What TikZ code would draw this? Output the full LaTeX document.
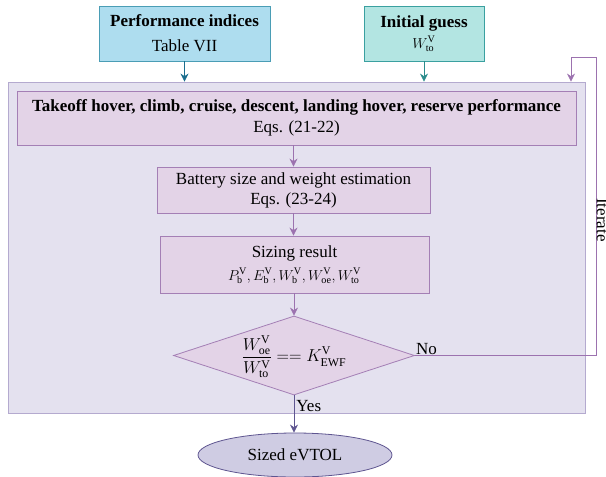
\documentclass[tikz,border=0pt]{standalone}
\usepackage{fontspec}
\setmainfont{Liberation Serif}
\usetikzlibrary{shapes.geometric,arrows.meta}
\definecolor{outerfill}{HTML}{E4E1EF}
\definecolor{outerdraw}{HTML}{B4AACF}
\definecolor{pfill}{HTML}{E3D3E7}
\definecolor{pdraw}{HTML}{A47FB5}
\definecolor{bfill}{HTML}{AEDDEF}
\definecolor{bdraw}{HTML}{4A9DB5}
\definecolor{gfill}{HTML}{B3E5E2}
\definecolor{gdraw}{HTML}{3AA0A0}
\definecolor{barrow}{HTML}{1B6E8E}
\definecolor{garrow}{HTML}{2A8C8C}
\definecolor{parrow}{HTML}{9C72AF}
\definecolor{yarrow}{HTML}{5E5590}
\definecolor{efill}{HTML}{CFCCE3}
\newcommand{\smallmath}{\fontsize{14.5}{17}\selectfont}
\tikzset{
  every node/.style={font=\fontsize{17}{20}\selectfont, inner sep=0pt},
  box/.style={draw, line width=0.8pt, align=center, rectangle},
  pbox/.style={box, fill=pfill, draw=pdraw},
  arr/.style={-{Stealth[length=8pt,width=8pt]}, line width=0.8pt},
}
\begin{document}
\begin{tikzpicture}[x=1pt,y=-1pt]
\useasboundingbox (0,0) rectangle (606,477);
\node[rectangle, draw=outerdraw, fill=outerfill, line width=0.8pt, minimum width=577, minimum height=331] (outer) at (296.5,247.5) {};
\node[box, fill=bfill, draw=bdraw, minimum width=171, minimum height=55] (perf) at (184.5,33.5) {\textbf{Performance indices}\\[5pt]Table VII};
\node[box, fill=gfill, draw=gdraw, minimum width=120, minimum height=55] (guess) at (424,33.5) {\textbf{Initial guess}\\[1pt]{\smallmath$W_{\mathrm{to}}^{\mathrm{V}}$}};
\node[pbox, minimum width=559, minimum height=54] (perfeq) at (296.5,118) {\textbf{Takeoff hover, climb, cruise, descent, landing hover, reserve performance}\\[1pt]Eqs. (21-22)};
\node[pbox, minimum width=273, minimum height=46] (batt) at (293.5,190) {Battery size and weight estimation\\[0pt]Eqs. (23-24)};
\node[pbox, minimum width=269, minimum height=57] (res) at (294.5,264.5) {Sizing result\\[3pt]{\smallmath$P_{\mathrm{b}}^{\mathrm{V}},E_{\mathrm{b}}^{\mathrm{V}},W_{\mathrm{b}}^{\mathrm{V}},W_{\mathrm{oe}}^{\mathrm{V}},W_{\mathrm{to}}^{\mathrm{V}}$}};
\node[diamond, draw=pdraw, fill=pfill, line width=0.8pt, minimum width=241, minimum height=79, aspect=3.05] (dec) at (294,355.5) {};
\node (dectext) at (294,357) {$\displaystyle\frac{W_{\mathrm{oe}}^{\mathrm{V}}}{W_{\mathrm{to}}^{\mathrm{V}}} == K_{\mathrm{EWF}}^{\mathrm{V}}$};
\node[ellipse, draw=yarrow, fill=efill, line width=0.8pt, minimum width=194, minimum height=44] (sized) at (295,455) {Sized eVTOL};
\coordinate (lr) at (596,355.5);
\coordinate (ur) at (596,57);
\coordinate (ul) at (571,57);
\draw[arr, draw=barrow] (perf.south) -- (perf.south |- outer.north);
\draw[arr, draw=garrow] (guess.south) -- (guess.south |- outer.north);
\draw[arr, draw=parrow] (batt.north |- perfeq.south) -- (batt.north);
\draw[arr, draw=parrow] (batt.south) -- (batt.south |- res.north);
\draw[arr, draw=parrow] (dec.north |- res.south) -- (dec.north);
\draw[arr, draw=yarrow] (dec.south) -- node[anchor=west, xshift=2pt, pos=0.28] (yes) {Yes} (dec.south |- sized.north);
\draw[arr, draw=parrow] (dec.east) -- (lr) -- (ur) -- (ul) -- (ul |- outer.north);
\node[anchor=south west, xshift=1pt, yshift=1pt] (no) at (dec.east) {No};
\node[rotate=-90, anchor=south] (iter) at (596.5,220) {Iterate};
\end{tikzpicture}
\end{document}
